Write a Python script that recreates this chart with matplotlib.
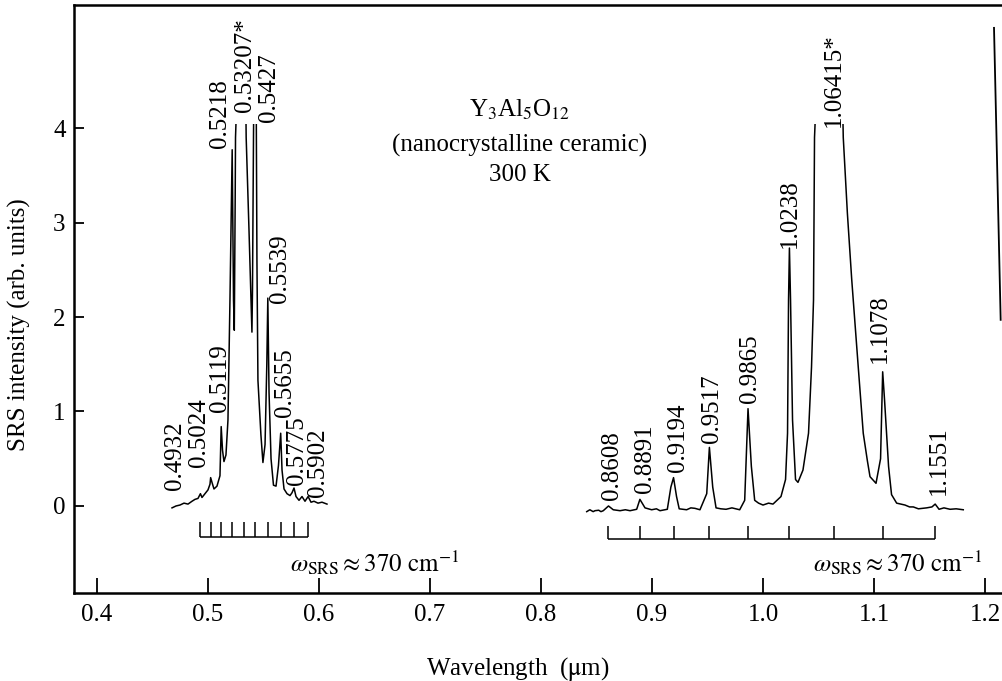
import numpy as np
import matplotlib
matplotlib.use("Agg")
import matplotlib.pyplot as plt
from matplotlib.patches import Rectangle

plt.rcParams['font.family'] = ['Liberation Serif', 'DejaVu Serif']
plt.rcParams['mathtext.fontset'] = 'stix'

# visible band of the SRS spectrum (0.47-0.61 um), pumped by the second harmonic
x_vis = [0.4676, 0.4712, 0.4748, 0.4784, 0.4820, 0.4856, 0.4883, 0.4910, 0.4932, 0.4946,
         0.4973, 0.5000, 0.5018, 0.5024, 0.5036, 0.5054, 0.5081, 0.5108, 0.5119, 0.5131,
         0.5144, 0.5162, 0.5180, 0.5198, 0.5218, 0.5230, 0.5237, 0.5245, 0.5248, 0.53207,
         0.5344, 0.5370, 0.5396, 0.5401, 0.5410, 0.5427, 0.5436, 0.5441, 0.5450, 0.5477,
         0.5495, 0.5514, 0.5530, 0.5539, 0.5550, 0.5568, 0.5590, 0.5613, 0.5635, 0.5655,
         0.5667, 0.5685, 0.5712, 0.5739, 0.5757, 0.5775, 0.5793, 0.5820, 0.5847, 0.5874,
         0.5902, 0.5928, 0.5955, 0.5991, 0.6027, 0.6072]
y_vis = [-0.02, 0.00, 0.01, 0.03, 0.02, 0.05, 0.07, 0.08, 0.13, 0.09,
         0.13, 0.17, 0.23, 0.30, 0.25, 0.18, 0.21, 0.32, 0.84, 0.59,
         0.47, 0.54, 0.91, 2.18, 3.77, 2.18, 1.86, 3.24, 3.90, 6.50,
         3.90, 2.90, 1.84, 2.30, 3.90, 6.50, 3.90, 2.60, 1.33, 0.75,
         0.46, 0.65, 1.50, 2.20, 1.20, 0.50, 0.22, 0.21, 0.43, 0.77,
         0.38, 0.18, 0.13, 0.11, 0.14, 0.19, 0.10, 0.06, 0.10, 0.05,
         0.10, 0.04, 0.05, 0.03, 0.04, 0.02]

# near-IR band (0.84-1.18 um), pumped by the fundamental
x_ir = [0.8412, 0.8440, 0.8470, 0.8486, 0.8520, 0.8540, 0.8561, 0.8608, 0.8651, 0.8712,
        0.8760, 0.8802, 0.8862, 0.8891, 0.8937, 0.8997, 0.9040, 0.9072, 0.9138, 0.9170,
        0.9194, 0.9221, 0.9245, 0.9312, 0.9350, 0.9387, 0.9432, 0.9493, 0.9517, 0.9547,
        0.9577, 0.9620, 0.9667, 0.9720, 0.9790, 0.9835, 0.9865, 0.9895, 0.9925, 0.9960,
        1.0000, 1.0050, 1.0090, 1.0162, 1.0203, 1.0221, 1.0230, 1.0238, 1.0248, 1.0266,
        1.0293, 1.0315, 1.0360, 1.0410, 1.0437, 1.0455, 1.0464, 1.06415, 1.0723, 1.0760,
        1.0799, 1.0858, 1.0903, 1.0940, 1.0964, 1.1018, 1.1059, 1.1078, 1.1095, 1.1131,
        1.1158, 1.1204, 1.1279, 1.1320, 1.1354, 1.1400, 1.1474, 1.1522, 1.1551, 1.1586,
        1.1630, 1.1685, 1.1740, 1.1804]
y_ir = [-0.06, -0.04, -0.06, -0.05, -0.045, -0.06, -0.05, 0.00, -0.04, -0.05,
        -0.04, -0.05, -0.035, 0.07, -0.02, -0.04, -0.03, -0.05, -0.035, 0.20,
        0.30, 0.10, -0.03, -0.04, -0.02, -0.025, -0.04, 0.13, 0.62, 0.20,
        -0.02, -0.03, -0.035, -0.02, -0.04, 0.06, 1.03, 0.42, 0.06, 0.03,
        0.01, 0.03, 0.02, 0.10, 0.28, 0.77, 2.18, 2.73, 2.18, 0.91,
        0.28, 0.25, 0.38, 0.77, 1.47, 2.18, 3.90, 9.00, 3.90, 3.10,
        2.40, 1.47, 0.77, 0.48, 0.31, 0.24, 0.50, 1.42, 1.12, 0.42,
        0.12, 0.03, 0.01, -0.01, -0.01, -0.03, -0.02, -0.01, 0.02, -0.035,
        -0.02, -0.035, -0.03, -0.04]

# line at the right border
x_edge = [1.2081, 1.2141]
y_edge = [5.06, 1.97]

# line assignments written next to the peaks
vis_labels = ["0.4932", "0.5024", "0.5119", "0.5218", "0.53207*", "0.5427",
              "0.5539", "0.5655", "0.5775", "0.5902"]
ir_labels = ["0.8608", "0.8891", "0.9194", "0.9517", "0.9865", "1.0238",
             "1.06415*", "1.1078", "1.1551"]

# where each label sits (centre x, bottom y)
vis_label_xy = [(0.4703, 0.17), (0.4919, 0.41), (0.5108, 0.99), (0.5108, 3.79),
                (0.5333, 4.17), (0.5550, 4.06), (0.5649, 2.15), (0.5694, 0.94),
                (0.5802, 0.22), (0.5991, 0.10)]
ir_label_xy = [(0.8640, 0.06), (0.8937, 0.14), (0.9234, 0.36), (0.9541, 0.67),
               (0.9883, 1.09), (1.0243, 2.73), (1.0640, 4.01), (1.1054, 1.51),
               (1.1586, 0.12)]

fig = plt.figure(figsize=(10.02, 6.81), dpi=100)
ax = fig.add_axes([74 / 1002, 88 / 681, 928 / 1002, 588 / 681])

# the detector saturates at ~4 units, tops of the strongest lines are cut off
clip_box = Rectangle((0.3, -2.0), 1.0, 6.04, transform=ax.transData)
for xs, ys in [(x_vis, y_vis), (x_ir, y_ir)]:
    ln, = ax.plot(xs, ys, color='black', lw=1.1)
    ln.set_clip_path(clip_box)
ax.plot(x_edge, y_edge, color='black', lw=1.3)

fs = 18
for labels, pos in [(vis_labels, vis_label_xy), (ir_labels, ir_label_xy)]:
    for lab, (lx, ly) in zip(labels, pos):
        ax.text(lx, ly, lab, rotation=90, ha='center', va='bottom', fontsize=fs)

# Raman-shift combs, one tick per assigned line
def comb(labels, y_top, y_base):
    waves = [float(s.rstrip('*')) for s in labels]
    ax.vlines(waves, y_base, y_top, color='black', lw=1.1)
    ax.hlines(y_base, waves[0], waves[-1], color='black', lw=1.1)

comb(vis_labels, -0.17, -0.33)
comb(ir_labels, -0.21, -0.35)

shift_txt = r'$\omega_{\rm SRS} \approx 370\ {\rm cm}^{-1}$'
ax.text(0.5739, -0.60, shift_txt, fontsize=fs, ha='left', va='center')
ax.text(1.0450, -0.60, shift_txt, fontsize=fs, ha='left', va='center')

ax.text(0.781, 4.19, r'Y$_3$Al$_5$O$_{12}$', fontsize=fs, ha='center', va='center')
ax.text(0.781, 3.82, '(nanocrystalline ceramic)', fontsize=fs, ha='center', va='center')
ax.text(0.781, 3.50, '300 K', fontsize=fs, ha='center', va='center')

ax.set_xlim(0.3793, 1.2153)
ax.set_ylim(-0.921, 5.302)
ax.set_xticks(np.arange(0.4, 1.21, 0.1))
ax.set_xticklabels(['%.1f' % v for v in np.arange(0.4, 1.21, 0.1)])
ax.set_yticks([0, 1, 2, 3, 4])

ax.tick_params(axis='x', direction='in', length=11, width=1.3, labelsize=fs, pad=8)
ax.tick_params(axis='y', direction='in', length=7, width=1.3, labelsize=fs, pad=6)
ax.spines['right'].set_visible(False)
for s in ['left', 'bottom', 'top']:
    ax.spines[s].set_linewidth(1.8)

ax.set_xlabel(r'Wavelength  ($\mathrm{\mu}$m)', fontsize=fs)
ax.xaxis.set_label_coords(0.478, -0.105)
ax.set_ylabel('SRS intensity (arb. units)', fontsize=fs)
ax.yaxis.set_label_coords(-0.046, 0.456)

fig.savefig('out.png', dpi=100)
